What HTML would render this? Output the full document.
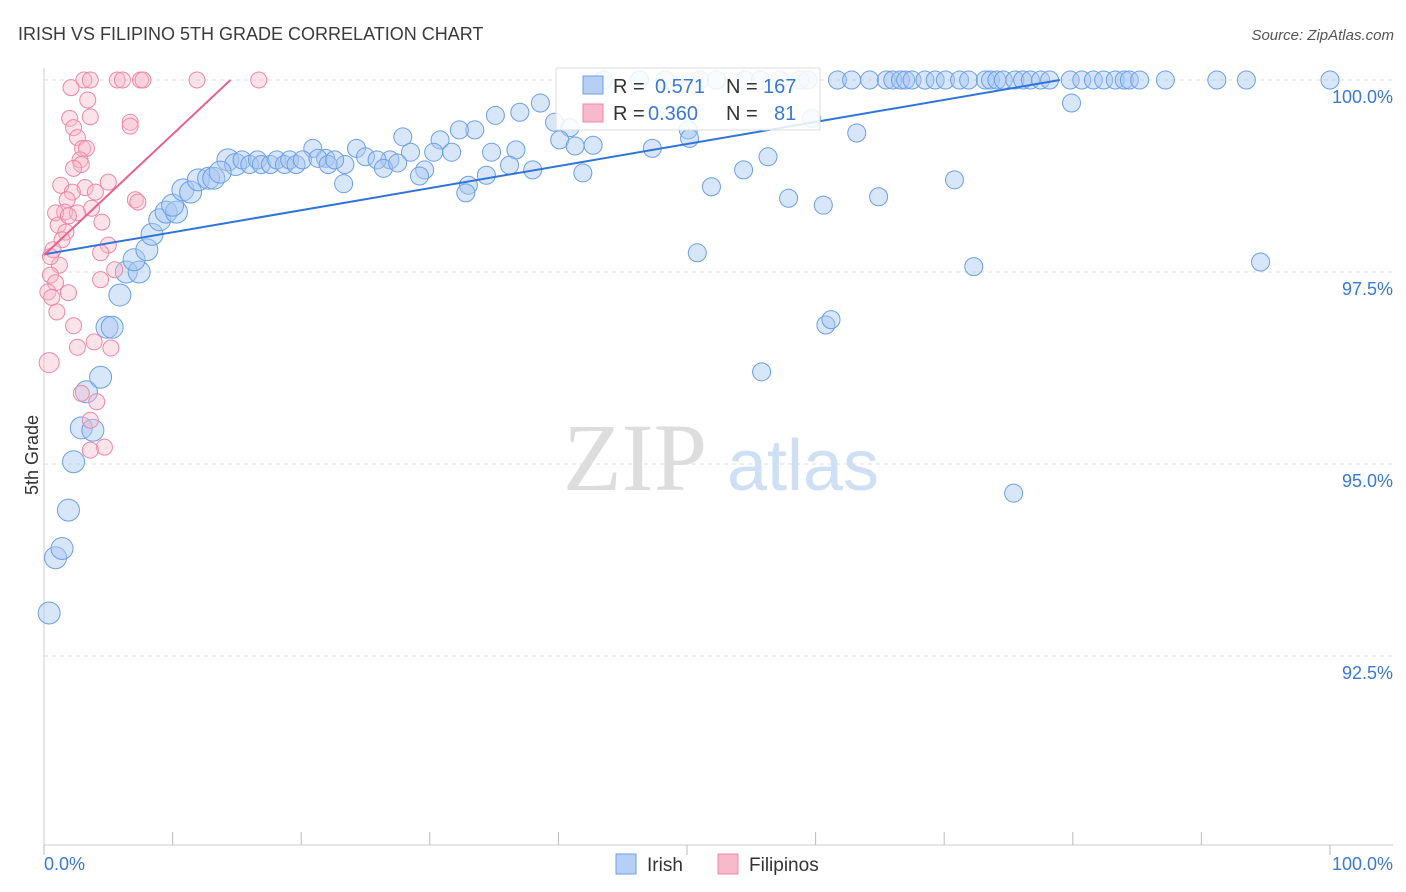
<!DOCTYPE html>
<html><head><meta charset="utf-8"><style>
body{margin:0;background:#fff;font-family:"Liberation Sans",sans-serif;}
svg{display:block}
</style></head><body>
<svg id="c" width="1406" height="892">
<text x="18" y="40" font-size="18" fill="#3a3a3a">IRISH VS FILIPINO 5TH GRADE CORRELATION CHART</text>
<text x="1394" y="40" font-size="15" fill="#555" text-anchor="end" font-style="italic">Source: ZipAtlas.com</text>
<text x="38" y="455" font-size="18" fill="#333" text-anchor="middle" transform="rotate(-90 38 455)">5th Grade</text>
<g><text x="635" y="490" font-size="96" fill="#ddd" font-family="Liberation Serif,serif" text-anchor="middle">ZIP</text><text x="803" y="490" font-size="72" fill="#cfe0f5" text-anchor="middle">atlas</text></g>
<g id="grid"></g><g id="pts"></g><g id="lines"></g>
<g>
<rect x="556" y="68" width="264" height="62" fill="#fff" fill-opacity="0.85" stroke="#ddd"/>
<rect x="583" y="76" width="20" height="18" fill="#b6d0f5" stroke="#6b9fe6"/>
<rect x="583" y="104" width="20" height="18" fill="#f7b9cb" stroke="#ec88a6"/>
<text x="613" y="93" font-size="20" fill="#333">R = </text><text x="655" y="93" font-size="20" fill="#3a78d6">0.571</text>
<text x="726" y="93" font-size="20" fill="#333">N = </text><text x="763" y="93" font-size="20" fill="#3a78d6">167</text>
<text x="613" y="120" font-size="20" fill="#333">R = </text><text x="648" y="120" font-size="20" fill="#3a78d6">0.360</text>
<text x="726" y="120" font-size="20" fill="#333">N = </text><text x="774" y="120" font-size="20" fill="#3a78d6">81</text>
</g>
<g>
<rect x="616" y="854" width="20" height="20" fill="#b6d0f5" stroke="#6b9fe6"/><text x="647" y="871" font-size="19" fill="#333">Irish</text>
<rect x="718" y="854" width="20" height="20" fill="#f7b9cb" stroke="#ec88a6"/><text x="749" y="871" font-size="19" fill="#333">Filipinos</text>
</g>
</svg>
<script>
const yTicks=[100,97.5,95,92.5];
const yTickLabels=["100.0%","97.5%","95.0%","92.5%"];
const irishX=[43.5,46.3,48.3,51.0,52.3,54.5,55.7,57.2,58.8,59.4,61.7,62.8,64.2,65.5,66.0,66.6,67.0,67.5,68.5,69.3,70.1,71.2,71.9,73.2,73.6,74.1,74.6,75.5,76.1,76.7,77.5,78.2,79.8,80.7,81.6,82.4,83.3,84.0,84.4,85.2,87.2,91.2,93.5,100,
38.6,37.0,35.1,39.7,40.9,33.5,32.3,30.8,27.9,40.1,41.3,42.7,31.7,30.3,28.5,36.7,34.8,20.9,24.3,21.9,25.0,26.9,23.4,25.9,26.4,27.5,29.6,29.2,34.4,33.0,32.8,36.2,38.0,23.3,41.9,47.3,50.1,50.2,51.9,50.8,54.4,56.3,57.9,60.6,59.7,63.2,64.9,70.8,72.3,60.8,61.2,55.8,75.4,79.9,94.6,
14.3,14.9,15.4,16.0,16.6,16.9,17.6,18.1,18.7,19.1,19.6,20.1,21.3,22.1,22.6,
0.4,0.9,1.4,1.9,2.3,2.9,3.8,3.3,4.4,4.9,5.3,5.9,6.4,7.4,7.0,8.0,8.4,9.0,9.5,10.3,10.0,10.8,11.4,12.0,12.8,13.2,13.7];
const irishY=[100,100,100,100,100,100,100,100,100,100,100,100,100,100,100,100,100,100,100,100,100,100,100,100,100,100,100,100,100,100,100,100,100,100,100,100,100,100,100,100,100,100,100,100,
99.7,99.58,99.54,99.45,99.38,99.35,99.35,99.22,99.26,99.22,99.14,99.15,99.06,99.06,99.06,99.09,99.06,99.11,99.11,98.98,99.0,98.96,98.9,98.96,98.85,98.92,98.83,98.75,98.76,98.63,98.53,98.89,98.83,98.65,98.79,99.11,99.35,99.24,98.61,97.75,98.83,99.0,98.46,98.37,99.5,99.31,98.48,98.7,97.57,96.81,96.88,96.2,94.62,99.7,97.63,
98.96,98.9,98.96,98.9,98.96,98.9,98.9,98.96,98.9,98.96,98.9,98.96,98.98,98.9,98.96,
93.06,93.78,93.9,94.4,95.03,95.47,95.44,95.94,96.13,96.78,96.78,97.2,97.5,97.5,97.66,97.79,97.99,98.18,98.28,98.28,98.37,98.57,98.54,98.7,98.72,98.72,98.8];
const filX=[3.1,3.6,5.7,6.1,7.5,7.7,11.9,16.7,2.1,3.4,2.0,3.6,2.3,6.7,6.7,2.6,3.0,3.3,2.8,2.9,2.3,5.0,3.2,1.3,4.0,2.2,1.8,7.1,7.3,3.7,1.6,0.9,2.6,4.5,1.1,1.7,1.4,5.0,0.7,4.4,1.2,5.5,0.5,4.4,0.9,0.3,1.9,1.0,2.3,3.9,2.6,5.2,0.4,2.9,4.1,3.6,4.7,3.6,0.6,0.5,1.9];
const filY=[100,100,100,100,100,100,100,100,99.9,99.74,99.5,99.52,99.38,99.45,99.4,99.25,99.11,99.11,98.96,98.9,98.85,98.67,98.6,98.63,98.54,98.54,98.44,98.44,98.41,98.33,98.28,98.27,98.27,98.15,98.11,98.02,97.92,97.85,97.79,97.75,97.59,97.53,97.46,97.4,97.36,97.24,97.23,96.98,96.8,96.59,96.52,96.51,96.32,95.92,95.81,95.57,95.22,95.18,97.17,97.7,98.23];
const irishLine=[[0,97.73],[79,100]];
const filLine=[[0,97.72],[14.5,100]];
const sx=v=>44+v*12.86, sy=v=>80+(100-v)*76.8;
const NS="http://www.w3.org/2000/svg";
function mk(t,a,p){const e=document.createElementNS(NS,t);for(const k in a)e.setAttribute(k,a[k]);p.appendChild(e);return e;}
const g=document.getElementById('grid');
const axis=mk('g',{},g);


mk('line',{x1:44,y1:68,x2:44,y2:845,stroke:'#ccc'},axis);
mk('line',{x1:44,y1:845,x2:1393,y2:845,stroke:'#ccc'},axis);
for(let i=0;i<=10;i++){mk('line',{x1:sx(i*10),x2:sx(i*10),y1:845,y2:i%5==0?855:832,stroke:'#bbb'},axis);}
yTicks.forEach((v,i)=>{
 const l=mk('line',{x1:44,x2:1393,y1:sy(v),y2:sy(v),stroke:'#ddd','stroke-dasharray':'4,4'},g);
 
 
 const t=mk('text',{x:1393,y:sy(v)+23,'font-size':18,fill:'#3a78d6','text-anchor':'end'},g);
 t.textContent=yTickLabels[i];
 
 
});
const xl0=mk('text',{x:44,y:870,'font-size':18,fill:'#3a78d6'},g);xl0.textContent='0.0%';


const xl1=mk('text',{x:1393,y:870,'font-size':18,fill:'#3a78d6','text-anchor':'end'},g);xl1.textContent='100.0%';


const P=document.getElementById('pts');
irishX.forEach((x,i)=>{const r=x<15&&irishY[i]<99?11:9;
 const c=mk('circle',{cx:sx(x),cy:sy(irishY[i]),r:r,fill:'#a9c8f2','fill-opacity':0.45,stroke:'#6b9fe6','stroke-width':1},P);
 
 });
filX.forEach((x,i)=>{const r=(filY[i]<96.5&&x<1)?10:8;
 const c=mk('circle',{cx:sx(x),cy:sy(filY[i]),r:r,fill:'#f7b9cb','fill-opacity':0.4,stroke:'#ec88a6','stroke-width':1},P);
 
 });
const L=document.getElementById('lines');
const l1=mk('line',{x1:sx(irishLine[0][0]),y1:sy(irishLine[0][1]),x2:sx(irishLine[1][0]),y2:sy(irishLine[1][1]),stroke:'#2f74d8','stroke-width':2},L);


const l2=mk('line',{x1:sx(filLine[0][0]),y1:sy(filLine[0][1]),x2:sx(filLine[1][0]),y2:sy(filLine[1][1]),stroke:'#e8628d','stroke-width':2},L);


</script>
</body></html>
